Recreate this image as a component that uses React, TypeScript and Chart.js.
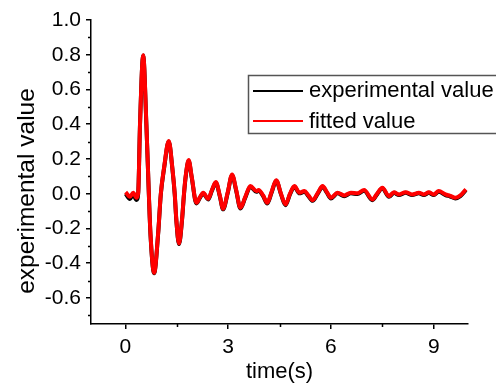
import React, { useEffect, useRef } from "react";
import { Chart, registerables } from "chart.js";

Chart.register(...registerables);

const FONT = "'Liberation Sans', Arial, sans-serif";

// time axis (s)
const timeS = [
  0.01, 0.136, 0.232, 0.328, 0.377, 0.43, 0.523, 0.616, 0.688, 0.735,
  0.842, 0.958, 1.037, 1.132, 1.269, 1.373, 1.443, 1.49, 1.568, 1.655,
  1.713, 1.762, 1.85, 1.937, 2.076, 2.178, 2.273, 2.419, 2.526,
  2.642, 2.758, 2.854, 2.991, 3.116, 3.238, 3.359, 3.499, 3.65, 3.824,
  3.891, 4.022, 4.143, 4.268, 4.405, 4.544, 4.675, 4.805, 4.936, 5.081,
  5.226, 5.343, 5.467, 5.618, 5.758, 5.88, 6.002, 6.193, 6.388, 6.582,
  6.774, 6.969, 7.21, 7.346, 7.5, 7.694, 7.84, 7.985, 8.179, 8.371,
  8.566, 8.711, 8.856, 9.001, 9.146, 9.341, 9.48, 9.631, 9.777, 9.939,
];

// fitted value
const fittedValue = [
  0.009, -0.017, 0.006, -0.023, 0.006, 0.4, 0.797, 0.4, 0.0, -0.23,
  -0.455, -0.23, 0.0, 0.15, 0.303, 0.15, 0.0, -0.15, -0.286, -0.15,
  0.0, 0.1, 0.194, 0.1, -0.052, -0.02, 0.006, -0.029, 0.02,
  0.067, -0.01, -0.086, 0.01, 0.111, 0.02, -0.081, -0.02, 0.044, 0.015,
  0.021, -0.01, -0.052, 0.01, 0.078, 0.0, -0.062, 0.0, 0.044, 0.006,
  0.015, -0.01, -0.037, 0.005, 0.044, 0.01, -0.023, 0.006, -0.01, 0.006,
  0.002, 0.021, -0.033, 0.0, 0.035, -0.014, 0.009, -0.004, 0.009, -0.004,
  0.006, -0.004, 0.009, -0.004, 0.015, -0.004, -0.012, -0.023, -0.01, 0.025,
];

// experimental value
const experimentalValue = [
  0.0, -0.03, -0.006, -0.036, 0.0, 0.396, 0.795, 0.396, -0.004, -0.234,
  -0.458, -0.234, -0.004, 0.146, 0.3, 0.146, -0.004, -0.154, -0.29, -0.154,
  -0.004, 0.096, 0.19, 0.096, -0.056, -0.024, 0.002, -0.033, 0.016,
  0.063, -0.014, -0.09, 0.006, 0.107, 0.016, -0.085, -0.024, 0.04, 0.011,
  0.017, -0.014, -0.056, 0.006, 0.074, -0.004, -0.066, -0.004, 0.04, 0.002,
  0.011, -0.014, -0.041, 0.001, 0.04, 0.006, -0.027, 0.002, -0.014, 0.002,
  -0.002, 0.017, -0.037, -0.004, 0.031, -0.018, 0.005, -0.008, 0.005, -0.008,
  0.002, -0.008, 0.005, -0.008, 0.011, -0.008, -0.016, -0.027, -0.014, 0.021,
];

const xMajorTicks = [0, 3, 6, 9];
const xMinorTicks = [1.5, 4.5, 7.5];
const yMajorTicks = [-0.6, -0.4, -0.2, 0.0, 0.2, 0.4, 0.6, 0.8, 1.0];
const yMinorTicks = [-0.7, -0.5, -0.3, -0.1, 0.1, 0.3, 0.5, 0.7, 0.9];

const seriesLabels = ["experimental value", "fitted value"];
const xTitle = "time(s)";
const yTitle = "experimental value";

const decorPlugin = {
  id: "decor",
  afterDraw(chart: any) {
    const ctx = chart.ctx;
    const xs = chart.scales.x;
    const ys = chart.scales.y;
    const area = chart.chartArea;
    ctx.save();
    // minor ticks
    ctx.strokeStyle = "#000";
    ctx.lineWidth = 1.5;
    ctx.beginPath();
    xMinorTicks.forEach((v) => {
      const px = Math.round(xs.getPixelForValue(v)) + 0.5;
      ctx.moveTo(px, area.bottom);
      ctx.lineTo(px, area.bottom + 3);
    });
    yMinorTicks.forEach((v) => {
      const py = Math.round(ys.getPixelForValue(v)) + 0.5;
      ctx.moveTo(area.left, py);
      ctx.lineTo(area.left - 3, py);
    });
    ctx.stroke();

    // axis titles
    ctx.fillStyle = "#000";
    ctx.font = `22px ${FONT}`;
    ctx.textAlign = "center";
    ctx.textBaseline = "alphabetic";
    ctx.fillText(xTitle, (area.left + area.right) / 2, 378);
    ctx.save();
    ctx.translate(34, 191);
    ctx.rotate(-Math.PI / 2);
    ctx.font = `24.5px ${FONT}`;
    ctx.fillText(yTitle, 0, 0);
    ctx.restore();

    // legend
    ctx.strokeStyle = "#555";
    ctx.lineWidth = 1.5;
    ctx.strokeRect(248.5, 75.5, 260, 58);
    const colors = ["#000000", "#ff0000"];
    const ly = [91, 121];
    const by = [97, 128];
    ctx.font = `22px ${FONT}`;
    ctx.textAlign = "left";
    for (let i = 0; i < 2; i++) {
      ctx.strokeStyle = colors[i];
      ctx.lineWidth = 2;
      ctx.beginPath();
      ctx.moveTo(253, ly[i]);
      ctx.lineTo(303, ly[i]);
      ctx.stroke();
      ctx.fillStyle = "#000";
      ctx.fillText(seriesLabels[i], 309, by[i]);
    }
    ctx.restore();
  },
};

export default function App() {
  const ref = useRef<HTMLCanvasElement | null>(null);
  useEffect(() => {
    if (!ref.current) return;
    const mk = (vals: number[]) => timeS.map((t, i) => ({ x: t, y: vals[i] }));
    const chart = new Chart(ref.current, {
      type: "line",
      data: {
        datasets: [
          {
            label: seriesLabels[0],
            data: mk(experimentalValue),
            borderColor: "#000000",
            borderWidth: 4,
            pointRadius: 0,
            cubicInterpolationMode: "monotone",
            borderJoinStyle: "round",
            fill: false,
            order: 2,
          },
          {
            label: seriesLabels[1],
            data: mk(fittedValue),
            borderColor: "#ff0000",
            borderWidth: 4,
            pointRadius: 0,
            cubicInterpolationMode: "monotone",
            borderJoinStyle: "round",
            fill: false,
            order: 1,
          },
        ],
      },
      options: {
        responsive: false,
        animation: false,
        layout: { padding: { top: 20, right: 28, left: 0, bottom: 0 } },
        plugins: { legend: { display: false }, tooltip: { enabled: false } },
        scales: {
          x: {
            type: "linear",
            min: -1,
            max: 10,
            afterBuildTicks: (s: any) => {
              s.ticks = xMajorTicks.map((v) => ({ value: v }));
            },
            afterFit: (s: any) => {
              s.height = 59;
            },
            ticks: {
              color: "#000",
              font: { family: FONT, size: 21 },
              padding: 6,
              maxRotation: 0,
              autoSkip: false,
              callback: (v: any) => String(v),
            },
            grid: {
              display: true,
              drawOnChartArea: false,
              drawTicks: true,
              tickLength: 5,
              color: "#000",
              lineWidth: 1.5,
            },
            border: { display: true, color: "#000", width: 1.5 },
          },
          y: {
            type: "linear",
            min: -0.75,
            max: 1.0,
            afterBuildTicks: (s: any) => {
              s.ticks = yMajorTicks.map((v) => ({ value: v }));
            },
            afterFit: (s: any) => {
              s.width = 91;
            },
            ticks: {
              color: "#000",
              font: { family: FONT, size: 21 },
              padding: 5,
              autoSkip: false,
              callback: (v: any) => Number(v).toFixed(1),
            },
            grid: {
              display: true,
              drawOnChartArea: false,
              drawTicks: true,
              tickLength: 5,
              color: "#000",
              lineWidth: 1.5,
            },
            border: { display: true, color: "#000", width: 1.5 },
          },
        },
      },
      plugins: [decorPlugin],
    });
    return () => chart.destroy();
  }, []);
  return (
    <div style={{ position: "absolute", left: 0, top: 0, width: 496, height: 383, background: "#fff" }}>
      <canvas ref={ref} width={496} height={383} style={{ display: "block" }} />
    </div>
  );
}
